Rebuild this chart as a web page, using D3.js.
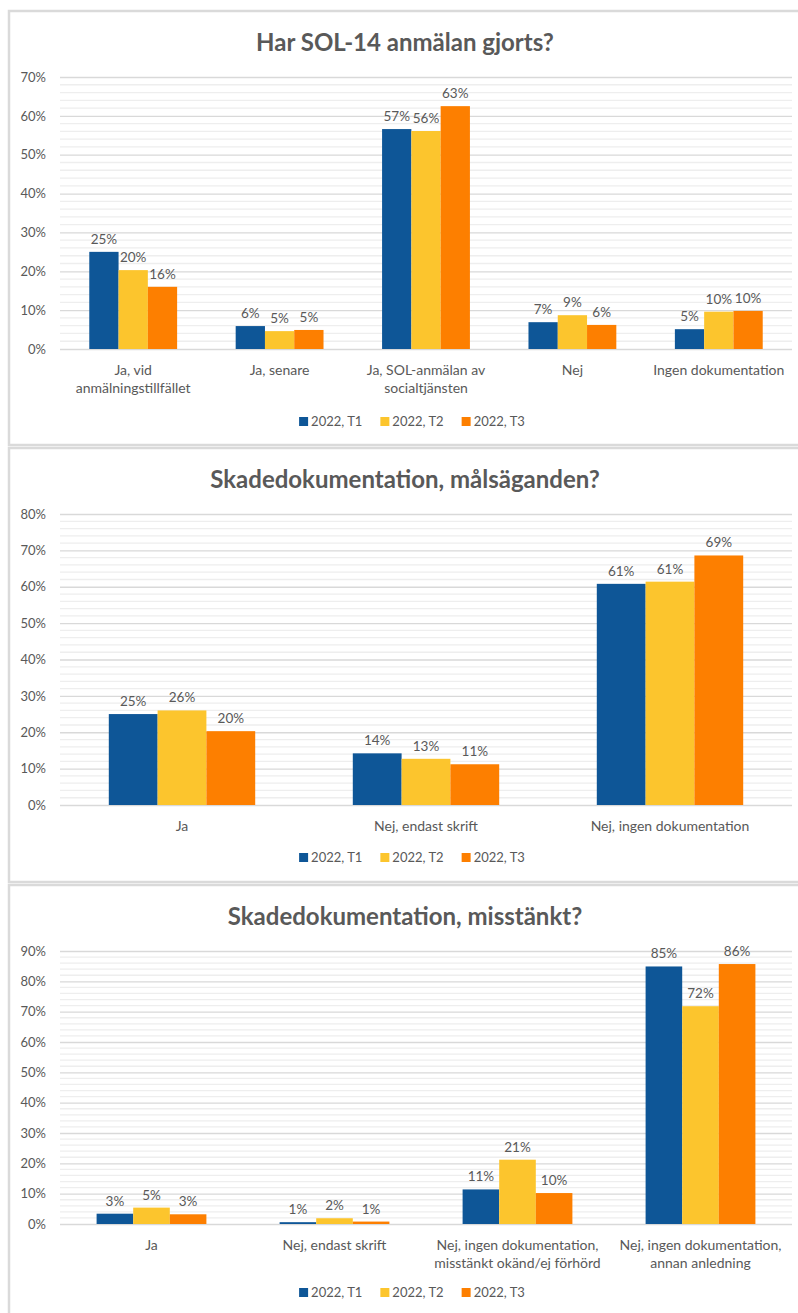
<!DOCTYPE html>
<html>
<head>
<meta charset="utf-8">
<script src="https://cdn.jsdelivr.net/npm/d3@7"></script>
<style>
  body { margin: 0; background: #fff; }
  text { font-family: Lato, "Open Sans", sans-serif; fill: #595959; }
  .titel { font-weight: bold; font-size: 24px; }
  .ejes text { font-size: 13px; }
  .ejes .domain { display: none; }
  .ejes line { stroke: #d9d9d9; stroke-width: 1.3; }
  .kat { font-size: 14px; }
  .etikett { font-size: 13.5px; }
  .leg { font-size: 13px; }
</style>
</head>
<body>
<div id="graf"></div>
<script>
// serier och färger
const serier = ["2022, T1", "2022, T2", "2022, T3"]
const farger = ["#0e5697", "#fcc52d", "#fd7f00"]

// Diagram 1: Har SOL-14 anmälan gjorts?
const titel1 = "Har SOL-14 anmälan gjorts?"
const kat1 = ["Ja, vid\nanmälningstillfället", "Ja, senare", "Ja, SOL-anmälan av\nsocialtjänsten", "Nej", "Ingen dokumentation"]
const t1_1 = [25.0, 5.9, 56.6, 6.9, 5.1]
const t2_1 = [20.3, 4.6, 56.1, 8.7, 9.6]
const t3_1 = [16.0, 4.9, 62.5, 6.2, 9.8]
const yTicks1 = [0, 10, 20, 30, 40, 50, 60, 70]

// Diagram 2: Skadedokumentation, målsäganden?
const titel2 = "Skadedokumentation, målsäganden?"
const kat2 = ["Ja", "Nej, endast skrift", "Nej, ingen dokumentation"]
const t1_2 = [25.0, 14.2, 60.8]
const t2_2 = [26.0, 12.7, 61.4]
const t3_2 = [20.3, 11.2, 68.6]
const yTicks2 = [0, 10, 20, 30, 40, 50, 60, 70, 80]

// Diagram 3: Skadedokumentation, misstänkt?
const titel3 = "Skadedokumentation, misstänkt?"
const kat3 = ["Ja", "Nej, endast skrift", "Nej, ingen dokumentation,\nmisstänkt okänd/ej förhörd", "Nej, ingen dokumentation,\nannan anledning"]
const t1_3 = [3.4, 0.6, 11.4, 84.9]
const t2_3 = [5.4, 1.9, 21.2, 71.8]
const t3_3 = [3.2, 0.8, 10.2, 85.7]
const yTicks3 = [0, 10, 20, 30, 40, 50, 60, 70, 80, 90]

const anchoTotal = 798
const altoTotal = 1313
const izq = 60
const der = 792

const svg = d3.select("#graf")
  .append("svg")
  .attr("width", anchoTotal)
  .attr("height", altoTotal)

const diagram = [
  { titel: titel1, kat: kat1, varden: [t1_1, t2_1, t3_1], ticks: yTicks1, top: 11, hojd: 434, botten: 338, leg: 415 },
  { titel: titel2, kat: kat2, varden: [t1_2, t2_2, t3_2], ticks: yTicks2, top: 448, hojd: 434, botten: 357, leg: 414 },
  { titel: titel3, kat: kat3, varden: [t1_3, t2_3, t3_3], ticks: yTicks3, top: 885, hojd: 440, botten: 339, leg: 412 }
]

const render = (d) => {
  const g = svg.append("g").attr("transform", `translate(0, ${d.top})`)

  g.append("rect")
    .attr("x", 9)
    .attr("y", 0)
    .attr("width", 800)
    .attr("height", d.hojd)
    .attr("fill", "#fff")
    .attr("stroke", "#dadada")
    .attr("stroke-width", 2.5)

  g.append("text")
    .attr("class", "titel")
    .attr("x", 405)
    .attr("y", 40)
    .attr("text-anchor", "middle")
    .text(d.titel)

  const yMax = d3.max(d.ticks)
  const y = d3.scaleLinear().domain([0, yMax]).range([d.botten, 66])
  const x0 = d3.scaleBand().domain(d.kat).range([izq, der]).paddingInner(0.4).paddingOuter(0.2)
  const x1 = d3.scaleBand().domain(serier).range([0, x0.bandwidth()])
  const color = d3.scaleOrdinal().domain(serier).range(farger)

  // fina stödlinjer
  g.append("g")
    .selectAll("line")
    .data(d3.range(2, yMax, 2).filter((v) => v % 10 !== 0))
    .join("line")
    .attr("x1", izq)
    .attr("x2", der)
    .attr("y1", (v) => y(v))
    .attr("y2", (v) => y(v))
    .attr("stroke", "#eeeeee")
    .attr("stroke-width", 1.3)

  g.append("g")
    .attr("class", "ejes")
    .attr("transform", `translate(${izq}, 0)`)
    .call(d3.axisLeft(y).tickValues(d.ticks).tickSize(-(der - izq)).tickPadding(14).tickFormat((v) => v + "%"))

  const rader = d.kat.map((k, i) => serier.map((s, j) => ({ kat: k, serie: s, v: d.varden[j][i] }))).flat()

  const grupp = g.append("g")
  grupp.selectAll("rect")
    .data(rader)
    .join("rect")
    .attr("x", (r) => x0(r.kat) + x1(r.serie))
    .attr("y", (r) => y(r.v))
    .attr("width", x1.bandwidth())
    .attr("height", (r) => y(0) - y(r.v))
    .attr("fill", (r) => color(r.serie))

  grupp.selectAll("text")
    .data(rader)
    .join("text")
    .attr("class", "etikett")
    .attr("x", (r) => x0(r.kat) + x1(r.serie) + x1.bandwidth() / 2)
    .attr("y", (r) => y(r.v) - 8)
    .attr("text-anchor", "middle")
    .text((r) => Math.round(r.v) + "%")

  // kategorietiketter
  const kt = g.append("g")
    .selectAll("text")
    .data(d.kat)
    .join("text")
    .attr("class", "kat")
    .attr("text-anchor", "middle")
    .attr("x", (k) => x0(k) + x0.bandwidth() / 2)
    .attr("y", d.botten + 26)
  kt.selectAll("tspan")
    .data((k) => k.split("\n"))
    .join("tspan")
    .attr("x", function () { return d3.select(this.parentNode).attr("x") })
    .attr("dy", (t, i) => (i === 0 ? 0 : 18))
    .text((t) => t)

  // förklaring
  const leg = g.append("g")
  let xpos = 0
  serier.forEach((s) => {
    const it = leg.append("g").attr("transform", `translate(${xpos}, 0)`)
    it.append("rect").attr("x", 0).attr("y", -9).attr("width", 9).attr("height", 9).attr("fill", color(s))
    const t = it.append("text").attr("class", "leg").attr("x", 12).attr("y", 0).text(s)
    xpos += 12 + t.node().getComputedTextLength() + 18
  })
  const totalt = xpos - 18
  leg.attr("transform", `translate(${412 - totalt / 2}, ${d.leg})`)
}

diagram.forEach(render)
</script>
</body>
</html>
